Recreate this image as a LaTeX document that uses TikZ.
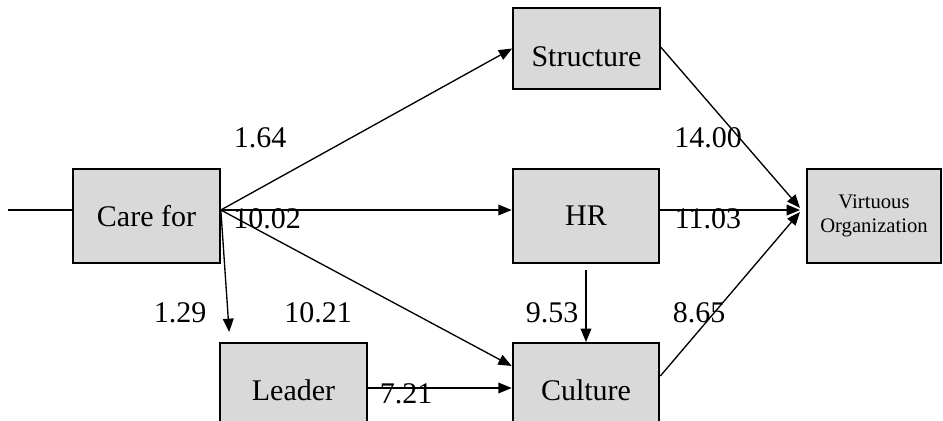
\documentclass[tikz,border=0pt]{standalone}
\usepackage{fontspec}
\setmainfont{Liberation Serif}
\usetikzlibrary{arrows.meta}
\definecolor{ink}{HTML}{000000}
\definecolor{boxgray}{HTML}{D9D9D9}

\begin{document}
\begin{tikzpicture}[
  x=0.75pt, y=-0.75pt,
  font=\fontsize{22.5}{27}\selectfont,
  blk/.style = {draw=ink, line width=1.5pt, fill=boxgray, inner sep=0pt,
                minimum width=110pt, minimum height=70.5pt},
  lbl/.style = {inner sep=0pt, text=ink},
  ln/.style  = {draw=ink, line width=1pt},
  arr/.style = {-{Triangle[length=10pt,width=8pt]}, draw=ink, line width=1pt},
]
\useasboundingbox (0,0) rectangle (943,421);
\clip (0,0) rectangle (943,421);

\node[blk, minimum height=60.75pt, text height=27pt] (struct) at (586.5,48.5) {Structure};
\node[blk] (care) at (146.5,216) {Care for};
\node[blk] (hr) at (586,216) {HR};
\node[blk, minimum width=100.5pt, align=center,
      font=\fontsize{15.5}{17.5}\selectfont] (virt) at (874,216) {Virtuous\\Organization};
\node[blk] (lead) at (293.5,390) {Leader};
\node[blk] (cult) at (586,390) {Culture};

\node[lbl] (w1) at (260,138) {1.64};
\node[lbl] (w2) at (267,219) {10.02};
\node[lbl] (w3) at (180,313) {1.29};
\node[lbl] (w4) at (318,313) {10.21};
\node[lbl] (w5) at (552,313) {9.53};
\node[lbl] (w6) at (699,313) {8.65};
\node[lbl] (w7) at (708,138) {14.00};
\node[lbl] (w8) at (708,219) {11.03};
\node[lbl] (w9) at (406,394) {7.21};

\coordinate (src) at (8,210);
\coordinate (hub) at ([yshift=4.5pt]care.east);
\coordinate (sink) at ([xshift=-4.5pt,yshift=4.5pt]virt.west);
\coordinate (leadtop) at ([xshift=7.5pt,yshift=7.5pt]lead.north west);

\draw[ln] (src) -- ([yshift=4.5pt]care.west);
\draw[arr] (hub) -- (struct.west);
\draw[arr] (hub) -- ([yshift=4.5pt]hr.west);
\draw[arr] (hub) -- ([yshift=-18pt]cult.north west);
\draw[arr] (hub) -- (leadtop);
\draw[arr, shorten <=4.5pt] (hr.south) -- (cult.north);
\draw[arr] ([yshift=1.5pt]lead.east) -- ([yshift=1.5pt]cult.west);
\draw[arr] ([yshift=1pt]struct.east) -- ([yshift=1.5pt]sink);
\draw[arr] ([yshift=4.5pt]hr.east) -- (sink);
\draw[arr] ([yshift=10.5pt]cult.east) -- ([yshift=-1.5pt]sink);

\end{tikzpicture}
\end{document}
